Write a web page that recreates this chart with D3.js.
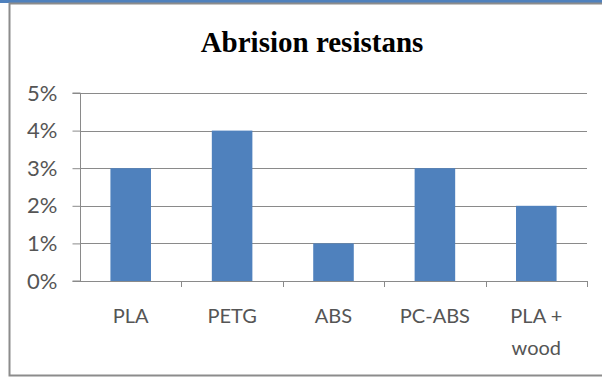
<!DOCTYPE html>
<html>
<head>
<meta charset="utf-8">
<script src="https://cdn.jsdelivr.net/npm/d3@7/dist/d3.min.js"></script>
<style>
  html, body { margin: 0; padding: 0; background: #ffffff; }
  svg { display: block; }
</style>
</head>
<body>
<script>
// Abrasion test results per filament material
const categories = ["PLA", "PETG", "ABS", "PC-ABS", "PLA + wood"];
const abrasionLoss = [0.03, 0.04, 0.01, 0.03, 0.02];
const yTicks = [0, 0.01, 0.02, 0.03, 0.04, 0.05];
const titleText = "Abrision resistans";

const W = 602, H = 378;
const plot = { left: 80, right: 587, top: 93, bottom: 281 };

const svg = d3.select("body").append("svg")
  .attr("width", W).attr("height", H);

// frame: blue strip on top, grey outline of the chart box
svg.append("rect").attr("x", 0).attr("y", 0).attr("width", W).attr("height", 3)
  .attr("fill", "#4f81bd");
svg.append("path")
  .attr("d", `M${W},3.5 H9.5 V375.5 H${W}`)
  .attr("fill", "none").attr("stroke", "#8c8c8c").attr("stroke-width", 2);

const y = d3.scaleLinear().domain([0, 0.05]).range([plot.bottom, plot.top]);
const x = d3.scaleBand().domain(categories)
  .range([plot.left, plot.right]).paddingInner(0.6).paddingOuter(0.3);
const xEdge = d3.scaleLinear().domain([0, categories.length])
  .range([plot.left, plot.right]);

// horizontal gridlines
svg.append("g").selectAll("line").data(yTicks.slice(1)).join("line")
  .attr("x1", plot.left).attr("x2", plot.right)
  .attr("y1", d => Math.round(y(d)) + 0.5).attr("y2", d => Math.round(y(d)) + 0.5)
  .attr("stroke", "#8a8a8a").attr("stroke-width", 1);

// y axis
const yAxis = d3.axisLeft(y).tickValues(yTicks).tickFormat(d3.format(".0%"))
  .tickSize(8).tickPadding(15);
const gy = svg.append("g")
  .attr("transform", `translate(${plot.left + 0.5},0)`)
  .call(yAxis);
gy.select(".domain").attr("stroke", "#8a8a8a").attr("d", `M-8,${y(0.05)}H0V${y(0)}H-8`);
gy.selectAll(".tick line").attr("stroke", "#8a8a8a");
gy.selectAll(".tick text")
  .attr("fill", "#555555")
  .style("font-family", "Lato, 'Open Sans', sans-serif")
  .style("font-size", "22px");

// bars
svg.append("g").selectAll("rect").data(abrasionLoss).join("rect")
  .attr("x", (d, i) => x(categories[i]))
  .attr("width", x.bandwidth())
  .attr("y", d => y(d))
  .attr("height", d => y(0) - y(d))
  .attr("fill", "#4f81bd");

// x axis line with ticks at category boundaries
const gx = svg.append("g");
gx.append("line")
  .attr("x1", plot.left).attr("x2", plot.right)
  .attr("y1", Math.round(y(0)) + 0.5).attr("y2", Math.round(y(0)) + 0.5)
  .attr("stroke", "#8a8a8a");
gx.selectAll("line.tk").data(d3.range(1, categories.length + 1)).join("line")
  .attr("class", "tk")
  .attr("x1", d => Math.round(xEdge(d)) + 0.5).attr("x2", d => Math.round(xEdge(d)) + 0.5)
  .attr("y1", y(0)).attr("y2", y(0) + 6)
  .attr("stroke", "#8a8a8a");

// category labels, the last one wraps onto two lines
const labelLines = { "PLA + wood": ["PLA +", "wood"] };
const lab = svg.append("g").selectAll("text").data(categories).join("text")
  .attr("x", d => x(d) + x.bandwidth() / 2)
  .attr("y", 323)
  .attr("text-anchor", "middle")
  .attr("fill", "#555555")
  .style("font-family", "Lato, 'Open Sans', sans-serif")
  .style("font-size", "20px");
lab.each(function (d) {
  const lines = labelLines[d] || [d];
  d3.select(this).selectAll("tspan").data(lines).join("tspan")
    .attr("x", x(d) + x.bandwidth() / 2)
    .attr("dy", (l, i) => i === 0 ? 0 : 32)
    .text(l => l);
});

// title
svg.append("text")
  .attr("x", 312).attr("y", 52)
  .attr("text-anchor", "middle")
  .attr("fill", "#000000")
  .style("font-family", "'Liberation Serif', 'Times New Roman', serif")
  .style("font-weight", "bold")
  .style("font-size", "29px")
  .text(titleText);
</script>
</body>
</html>
